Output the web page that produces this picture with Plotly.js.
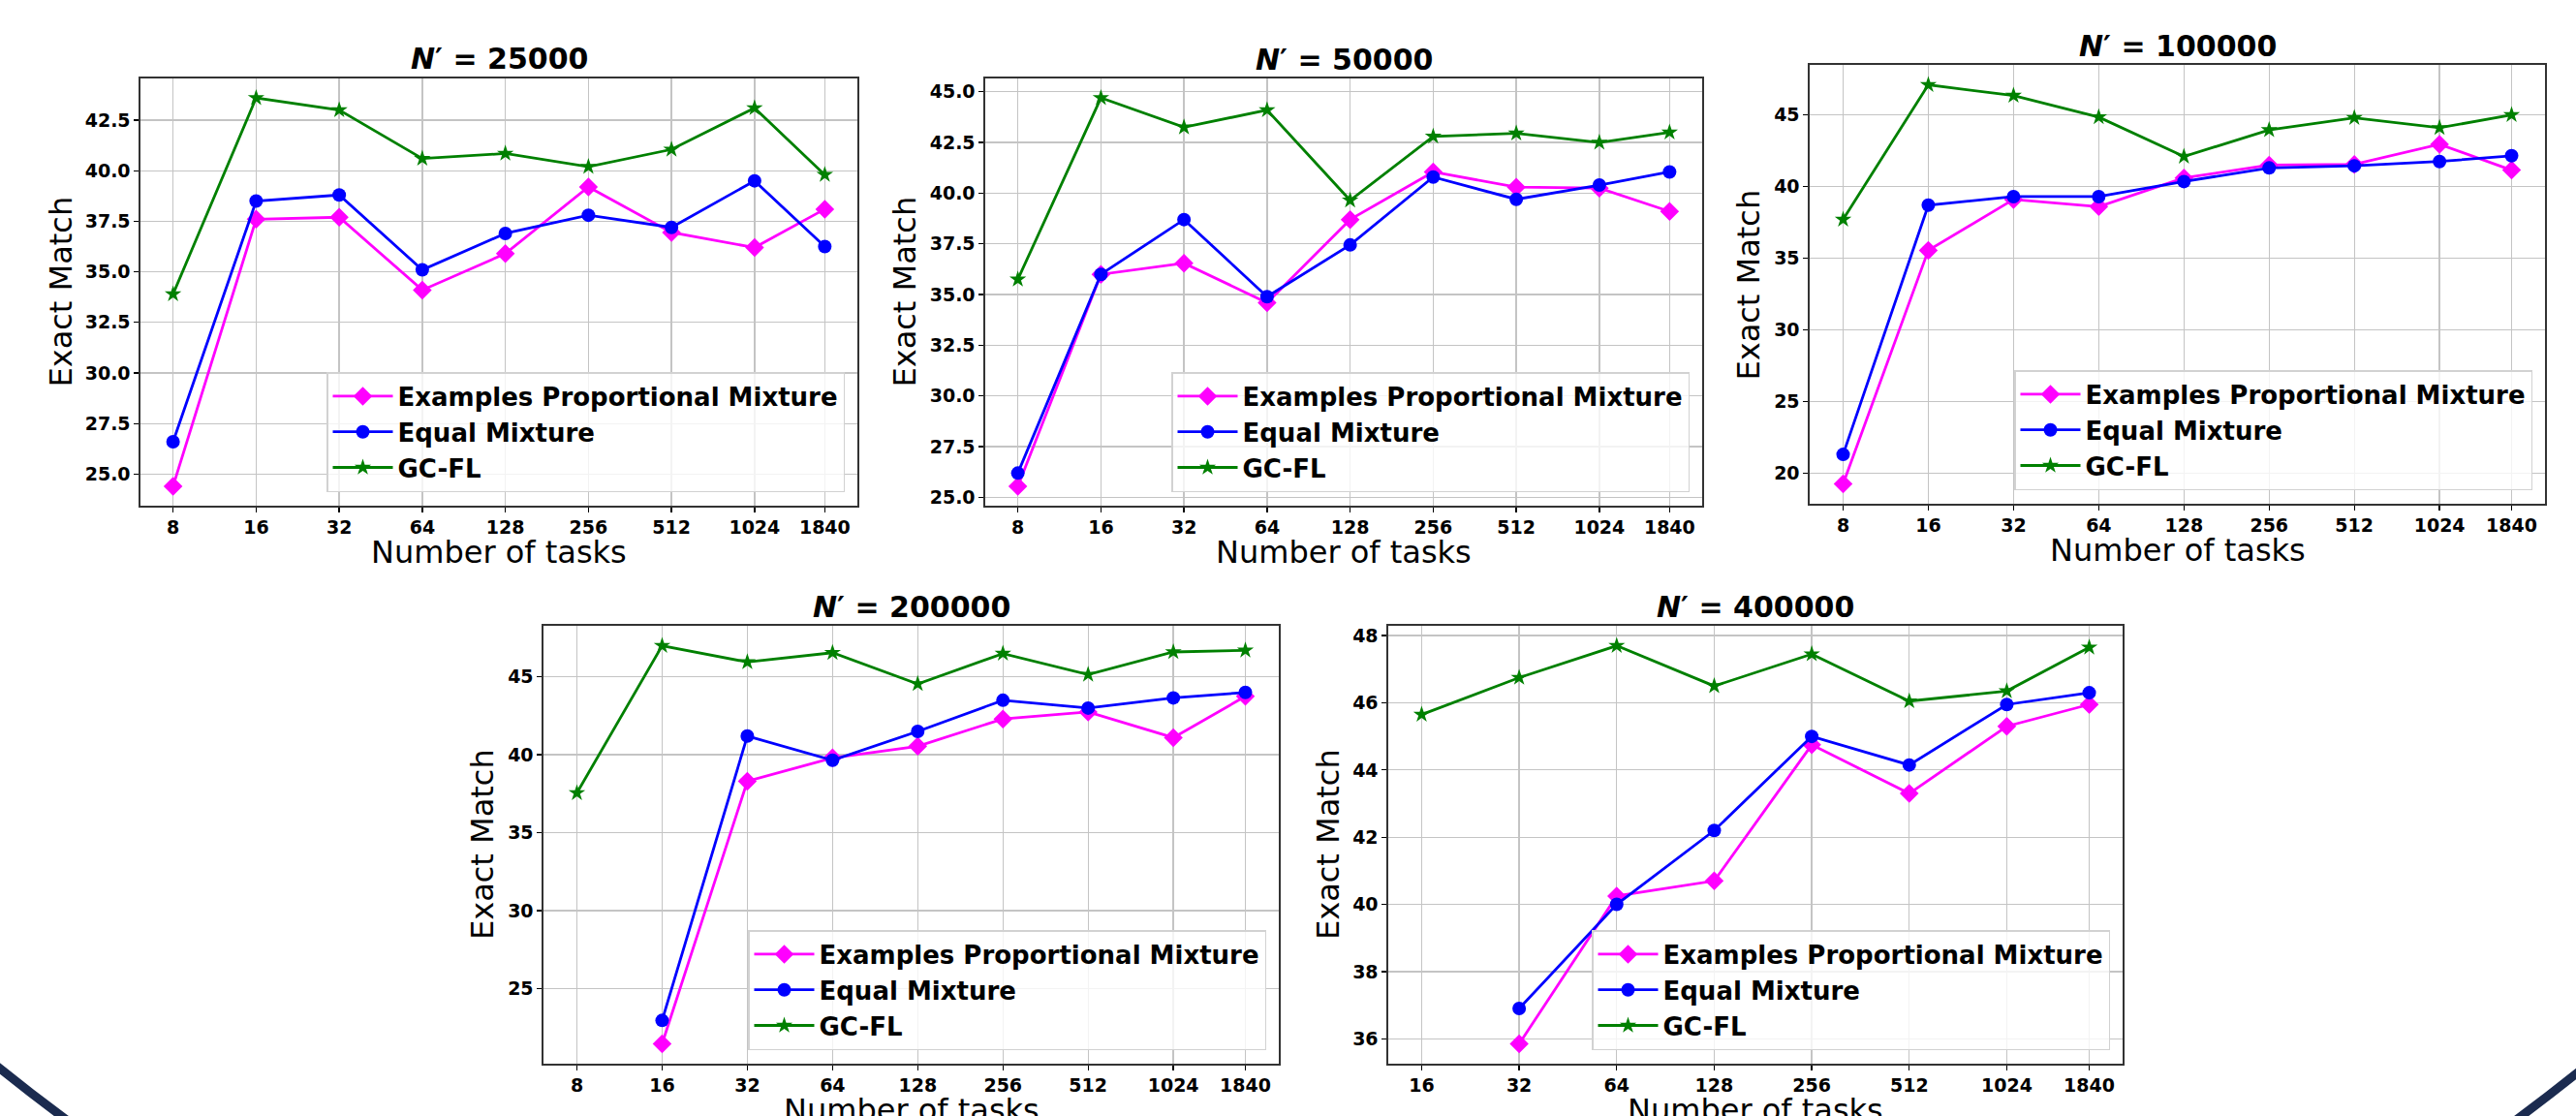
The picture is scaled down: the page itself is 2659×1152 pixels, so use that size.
<!DOCTYPE html>
<html><head><meta charset="utf-8">
<script src="https://cdn.plot.ly/plotly-3.0.1.min.js"></script>
<style>html,body{margin:0;padding:0;background:#fff;overflow:hidden}#chart{width:2659px;height:1152px}</style>
</head><body><div id="chart"></div>
<script>
// ---------------- data ----------------
const tasks = [8, 16, 32, 64, 128, 256, 512, 1024, 1840];
const tasks400k = [16, 32, 64, 128, 256, 512, 1024, 1840];
const seriesNames = ['Examples Proportional Mixture', 'Equal Mixture', 'GC-FL'];
const panelNs = ['25000', '50000', '100000', '200000', '400000'];

const epm25k   = [24.4, 37.6, 37.7, 34.1, 35.9, 39.2, 36.95, 36.2, 38.1];
const equal25k = [26.6, 38.5, 38.8, 35.1, 36.9, 37.8, 37.2, 39.5, 36.25];
const gcfl25k  = [33.9, 43.6, 43.0, 40.6, 40.85, 40.2, 41.05, 43.1, 39.8];

const epm50k   = [25.55, 36.0, 36.55, 34.6, 38.7, 41.05, 40.3, 40.25, 39.1];
const equal50k = [26.2, 36.0, 38.7, 34.9, 37.45, 40.8, 39.7, 40.4, 41.05];
const gcfl50k  = [35.75, 44.7, 43.25, 44.1, 39.65, 42.8, 42.95, 42.5, 43.0];

const epm100k   = [19.25, 35.55, 39.1, 38.6, 40.6, 41.5, 41.55, 42.95, 41.15];
const equal100k = [21.3, 38.7, 39.3, 39.3, 40.35, 41.3, 41.45, 41.75, 42.15];
const gcfl100k  = [37.7, 47.1, 46.35, 44.85, 42.1, 43.95, 44.8, 44.1, 45.0];

const epm200k   = [null, 21.45, 38.3, 39.8, 40.55, 42.3, 42.75, 41.1, 43.75];
const equal200k = [null, 22.95, 41.2, 39.65, 41.5, 43.5, 43.0, 43.65, 44.0];
const gcfl200k  = [37.55, 47.0, 45.95, 46.55, 44.55, 46.5, 45.15, 46.6, 46.7];

const epm400k   = [null, 35.85, 40.25, 40.7, 44.75, 43.3, 45.3, 45.95];
const equal400k = [null, 36.9, 40.0, 42.2, 45.0, 44.15, 45.95, 46.3];
const gcfl400k  = [45.65, 46.75, 47.7, 46.5, 47.45, 46.05, 46.35, 47.65];

const panelX = [tasks, tasks, tasks, tasks, tasks400k];
const panelSeries = [
  [epm25k, equal25k, gcfl25k],
  [epm50k, equal50k, gcfl50k],
  [epm100k, equal100k, gcfl100k],
  [epm200k, equal200k, gcfl200k],
  [epm400k, equal400k, gcfl400k]
];

// ---------------- styling / geometry ----------------
const W = 2659, H = 1152;
const FONT = 'DejaVu Sans';
const colors = ['#ff00ff', '#0000ff', '#008000'];
const symbols = ['diamond', 'circle', 'star'];
const msizes = [15, 14, 13];
const boxes = [
  {l: 145, r: 885, t: 81, b: 522},
  {l: 1017, r: 1757, t: 81, b: 522},
  {l: 1868, r: 2627, t: 67, b: 520},
  {l: 561, r: 1320, t: 646, b: 1098},
  {l: 1433, r: 2191, t: 646, b: 1098}
];
const titleY = [61, 62, 47, 626, 626];
const yTitleOff = [83, 84, 64, 63, 62];
const yFmt = ['.1f', '.1f', 'd', 'd', 'd'];
const yDtick = [2.5, 2.5, 5, 5, 2];

const px = x => x / W;
const py = y => 1 - y / H;

const traces = [];
const layout = {
  width: W, height: H,
  margin: {l: 0, r: 0, t: 0, b: 0},
  paper_bgcolor: '#fff', plot_bgcolor: '#fff',
  showlegend: true,
  font: {family: FONT, color: '#000'},
  annotations: [],
  shapes: []
};

boxes.forEach((bx, i) => {
  const k = i === 0 ? '' : String(i + 1);
  const xs = panelX[i];
  const allY = panelSeries[i].flat().filter(v => v !== null);
  const ymin = Math.min(...allY), ymax = Math.max(...allY);
  const ypad = 0.05 * (ymax - ymin);
  const lx0 = Math.log10(xs[0]), lx1 = Math.log10(xs[xs.length - 1]);
  const xpad = 0.05 * (lx1 - lx0);

  const legName = i === 0 ? 'legend' : 'legend' + (i + 1);

  panelSeries[i].forEach((ys, s) => {
    traces.push({
      type: 'scatter', mode: 'lines+markers',
      x: xs, y: ys, name: seriesNames[s],
      xaxis: 'x' + k, yaxis: 'y' + k,
      legend: legName,
      connectgaps: false,
      line: {color: colors[s], width: 2.8},
      marker: {color: colors[s], symbol: symbols[s], size: msizes[s], line: {width: 0}}
    });
  });

  const tickFont = {family: FONT, size: 19, color: '#000', weight: 700};
  layout['xaxis' + k] = {
    domain: [px(bx.l), px(bx.r)], anchor: 'y' + k,
    type: 'log', range: [lx0 - xpad, lx1 + xpad],
    tickmode: 'array', tickvals: xs, ticktext: xs.map(String),
    tickfont: tickFont, ticks: 'outside', ticklen: 5, tickcolor: '#000', tickwidth: 1.3,
    showgrid: true, gridcolor: '#c4c4c4', gridwidth: 1.3,
    showline: true, mirror: true, linecolor: '#333', linewidth: 1.6,
    zeroline: false, automargin: false, fixedrange: true
  };
  layout['yaxis' + k] = {
    domain: [py(bx.b), py(bx.t)], anchor: 'x' + k,
    range: [ymin - ypad, ymax + ypad],
    tickmode: 'linear', tick0: 0, dtick: yDtick[i], tickformat: yFmt[i],
    tickfont: tickFont, ticks: 'outside', ticklen: 5, tickcolor: '#000', tickwidth: 1.3,
    showgrid: true, gridcolor: '#c4c4c4', gridwidth: 1.3,
    showline: true, mirror: true, linecolor: '#333', linewidth: 1.6,
    zeroline: false, automargin: false, fixedrange: true
  };

  layout[legName] = {
    x: px(bx.r - 13), y: py(bx.b - 14), xanchor: 'right', yanchor: 'bottom',
    xref: 'paper', yref: 'paper',
    bgcolor: 'rgba(255,255,255,0.8)', bordercolor: '#d2d2d2', borderwidth: 1.5,
    font: {family: FONT, size: 26, color: '#000', weight: 700},
    itemwidth: 62, tracegroupgap: 0, traceorder: 'normal'
  };

  const cx = (bx.l + bx.r) / 2;
  layout.annotations.push({
    xref: 'paper', yref: 'paper', x: px(cx), y: py(titleY[i]),
    xanchor: 'center', yanchor: 'middle', showarrow: false,
    text: '<b><i>N</i>\u2032 = ' + panelNs[i] + '</b>',
    font: {family: FONT, size: 30, color: '#000'}
  });
  layout.annotations.push({
    xref: 'paper', yref: 'paper', x: px(bx.l - yTitleOff[i]), y: py((bx.t + bx.b) / 2),
    xanchor: 'center', yanchor: 'middle', showarrow: false, textangle: -90,
    text: 'Exact Match', font: {family: FONT, size: 32, color: '#000'}
  });
  layout.annotations.push({
    xref: 'paper', yref: 'paper', x: px(cx), y: py(bx.b + 48),
    xanchor: 'center', yanchor: 'middle', showarrow: false,
    text: 'Number of tasks', font: {family: FONT, size: 32, color: '#000'}
  });
});

// decorative slide arc (large circle whose bottom corners are visible)
const cX = 1333, cY = -552, R = 2125;
layout.shapes.push({
  type: 'circle', xref: 'paper', yref: 'paper', layer: 'above',
  x0: px(cX - R), x1: px(cX + R), y0: py(cY + R), y1: py(cY - R),
  line: {color: '#1b2b4f', width: 9}, fillcolor: 'rgba(0,0,0,0)'
});

Plotly.newPlot('chart', traces, layout, {staticPlot: true, displayModeBar: false});
</script>
</body></html>
